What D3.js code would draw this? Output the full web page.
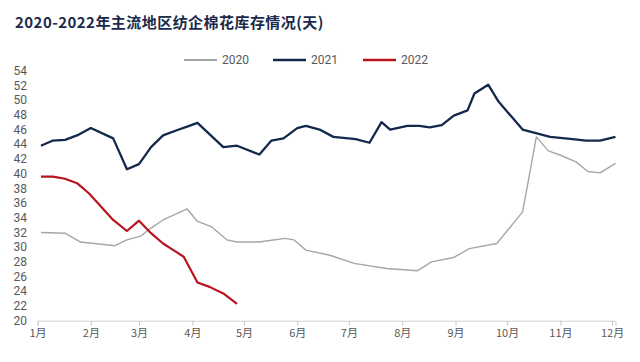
<!DOCTYPE html>
<html>

<head>
  <meta charset="utf-8">
  <script src="https://cdn.jsdelivr.net/npm/d3@7"></script>
  <style type="text/css">
    body {
      margin: 0;
      background: #fff;
      font-family: "Noto Sans CJK SC", "Noto Sans", sans-serif;
    }
  </style>
</head>

<body>
  <script type="text/javascript">
    const width = 640;
    const height = 362;

    // weekly stock days, dates (year is a dummy)
    const dates2020 = ['01-03', '01-17', '01-26', '02-15', '02-22', '03-02', '03-08', '03-15', '03-29', '04-04',
      '04-12', '04-21', '04-27', '05-10', '05-16', '05-25', '05-30', '06-06', '06-20', '07-04', '07-23',
      '08-10', '08-18', '08-31', '09-09', '09-25', '10-10', '10-18', '10-25', '11-01', '11-10', '11-17',
      '11-24', '12-03'];
    const values2020 = [32.0, 31.9, 30.7, 30.2, 31.0, 31.5, 32.6, 33.7, 35.2, 33.5,
      32.8, 31.0, 30.7, 30.7, 30.9, 31.2, 31.0, 29.6, 28.9, 27.8, 27.1,
      26.8, 28.0, 28.6, 29.8, 30.5, 34.8, 45.0, 43.1, 42.5, 41.6, 40.3,
      40.1, 41.4];

    const dates2021 = ['01-03', '01-10', '01-17', '01-24', '02-01', '02-14', '02-22', '03-01', '03-08', '03-15',
      '03-23', '03-29', '04-04', '04-19', '04-27', '05-10', '05-17', '05-24', '06-01', '06-06', '06-14',
      '06-22', '07-05', '07-13', '07-20', '07-25', '08-04', '08-11', '08-17', '08-24', '08-31', '09-08',
      '09-12', '09-20', '09-26', '10-10', '10-26', '11-08', '11-16', '11-24', '12-03'];
    const values2021 = [43.8, 44.5, 44.6, 45.2, 46.2, 44.8, 40.6, 41.3, 43.6, 45.2,
      45.9, 46.4, 46.9, 43.6, 43.8, 42.6, 44.5, 44.8, 46.2, 46.5, 46.0,
      45.0, 44.7, 44.2, 47.0, 46.0, 46.5, 46.5, 46.3, 46.6, 47.9, 48.6,
      50.9, 52.1, 49.8, 46.0, 45.0, 44.7, 44.5, 44.5, 45.0];

    const dates2022 = ['01-03', '01-10', '01-17', '01-24', '01-31', '02-07', '02-14', '02-22', '03-01', '03-08',
      '03-15', '03-21', '03-27', '04-04', '04-11', '04-19', '04-27'];
    const values2022 = [39.6, 39.6, 39.3, 38.7, 37.3, 35.5, 33.7, 32.2, 33.6, 31.9,
      30.5, 29.6, 28.7, 25.2, 24.6, 23.7, 22.3];

    const seriesNames = ['2020', '2021', '2022'];
    const yTicks = d3.range(20, 55, 2);
    const monthLabels = ['1月', '2月', '3月', '4月', '5月', '6月', '7月', '8月', '9月', '10月', '11月', '12月'];

    const parse = d3.timeParse('%Y-%m-%d');
    const toDate = s => parse('2021-' + s);

    const series = [
      { name: seriesNames[0], dates: dates2020, values: values2020, color: '#a6a6a6', w: 1.4 },
      { name: seriesNames[1], dates: dates2021, values: values2021, color: '#14284b', w: 2.3 },
      { name: seriesNames[2], dates: dates2022, values: values2022, color: '#b8141e', w: 2.2 }
    ];

    const svg = d3.select('body').append('svg')
      .attr('width', width)
      .attr('height', height);

    const x = d3.scaleTime()
      .domain([toDate('01-01'), toDate('12-03')])
      .range([37.5, 615.5]);

    const y = d3.scaleLinear()
      .domain([20, 54])
      .range([320.7, 70.7]);

    // title
    svg.append('text')
      .attr('x', 15)
      .attr('y', 28)
      .style('font-size', '15px')
      .style('font-weight', 'bold')
      .style('letter-spacing', '0.45px')
      .style('fill', '#1b2a4a')
      .text('2020-2022年主流地区纺企棉花库存情况(天)');

    // y labels, no axis line
    svg.append('g').selectAll('text').data(yTicks).join('text')
      .attr('x', 27)
      .attr('y', d => y(d))
      .attr('dy', '0.35em')
      .attr('text-anchor', 'end')
      .style('font-size', '12px')
      .style('font-family', 'Roboto, sans-serif')
      .style('fill', '#595959')
      .text(d => d);

    // x axis
    const monthStarts = d3.range(12).map(m => new Date(2021, m, 1));
    const xAxis = svg.append('g')
      .attr('transform', `translate(0, ${y(20)})`)
      .call(d3.axisBottom(x)
        .tickValues(monthStarts)
        .tickSizeOuter(0)
        .tickSize(5)
        .tickFormat((d, i) => monthLabels[i]));
    xAxis.select('.domain').attr('stroke', '#d0d0d0');
    xAxis.selectAll('.tick line').attr('stroke', '#c8c8c8');
    xAxis.selectAll('.tick text')
      .attr('y', 9)
      .style('font-size', '11px')
      .style('font-family', '"Noto Sans CJK SC", sans-serif')
      .style('fill', '#595959');

    const line = d3.line()
      .x(d => x(d.date))
      .y(d => y(d.value));

    svg.append('g').selectAll('path').data(series).join('path')
      .attr('fill', 'none')
      .attr('stroke', d => d.color)
      .attr('stroke-width', d => d.w)
      .attr('stroke-linejoin', 'round')
      .attr('d', d => line(d.dates.map((s, i) => ({ date: toDate(s), value: d.values[i] }))));

    // legend
    const legendX = [184, 273, 363];
    const legend = svg.append('g').selectAll('g').data(series).join('g')
      .attr('transform', (d, i) => `translate(${legendX[i]}, 60)`);
    legend.append('line')
      .attr('x1', 0).attr('x2', 33)
      .attr('stroke', d => d.color)
      .attr('stroke-width', d => d.w + 0.4);
    legend.append('text')
      .attr('x', 38)
      .attr('dy', '0.36em')
      .style('font-size', '12px')
      .style('font-family', 'Roboto, sans-serif')
      .style('fill', '#595959')
      .text(d => d.name);
  </script>
</body>

</html>
